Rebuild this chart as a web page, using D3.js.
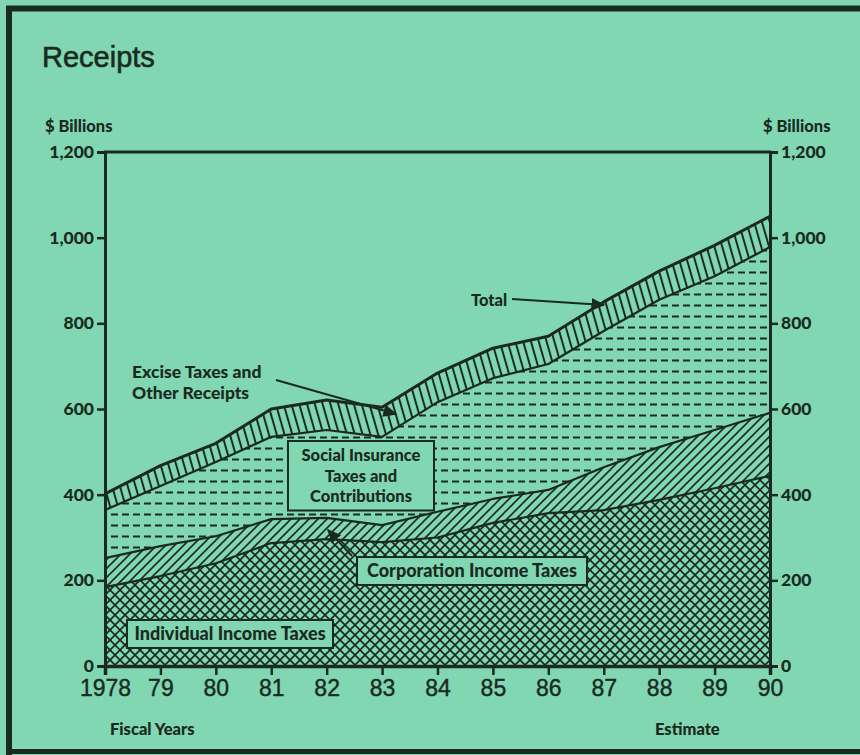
<!DOCTYPE html>
<html>
<head>
<meta charset="utf-8">
<script src="https://cdn.jsdelivr.net/npm/d3@7"></script>
<style>
  html, body { margin: 0; padding: 0; background: #80d7b2; }
  svg { display: block; }
</style>
</head>
<body>
<svg id="chart" width="860" height="755"></svg>
<script>
// Fiscal years and federal receipts by source, $ billions
const years = [1978, 1979, 1980, 1981, 1982, 1983, 1984, 1985, 1986, 1987, 1988, 1989, 1990];
const individualIncome = [184, 210, 240, 287, 296, 289, 300, 334, 357, 364, 388, 415, 444];
const corporationIncome = [68, 70, 63, 56, 50, 40, 60, 56, 54, 100, 123, 136, 147];
const socialInsurance = [112, 140, 173, 192, 205, 206, 256, 282, 294, 318, 344, 359, 387];
const exciseOther = [38, 48, 44, 65, 70, 69, 68, 70, 65, 68, 67, 72, 72];
const yTicks = [0, 200, 400, 600, 800, 1000, 1200];

const INK = "#1b2a21";
const BG = "#80d7b2";
const LABEL_FONT = "Lato, 'DejaVu Sans', sans-serif";

const svg = d3.select("#chart");

// outer frame
svg.append("rect").attr("x", 0).attr("y", 0).attr("width", 860).attr("height", 755).attr("fill", BG);
svg.append("path")
  .attr("d", "M9,755 L9,8.5 L860,8.5")
  .attr("fill", "none").attr("stroke", INK).attr("stroke-width", 6);
svg.append("line").attr("x1", 9).attr("x2", 860).attr("y1", 751.5).attr("y2", 751.5)
  .attr("stroke", INK).attr("stroke-width", 5);

// fill patterns
const defs = svg.append("defs");
const pCross = defs.append("pattern").attr("id", "pCross").attr("patternUnits", "userSpaceOnUse")
  .attr("width", 10).attr("height", 10);
pCross.append("path").attr("d", "M-1,-1 L11,11 M11,-1 L-1,11")
  .attr("stroke", INK).attr("stroke-width", 1.7).attr("fill", "none");

const pDiag = defs.append("pattern").attr("id", "pDiag").attr("patternUnits", "userSpaceOnUse")
  .attr("width", 9).attr("height", 9);
pDiag.append("path").attr("d", "M-2,2 L2,-2 M0,9 L9,0 M7,11 L11,7")
  .attr("stroke", INK).attr("stroke-width", 1.6).attr("fill", "none");

const pDash = defs.append("pattern").attr("id", "pDash").attr("patternUnits", "userSpaceOnUse")
  .attr("width", 11).attr("height", 11).attr("y", 3);
pDash.append("line").attr("x1", 1).attr("x2", 8).attr("y1", 5.5).attr("y2", 5.5)
  .attr("stroke", INK).attr("stroke-width", 2);

const pVert = defs.append("pattern").attr("id", "pVert").attr("patternUnits", "userSpaceOnUse")
  .attr("width", 7.5).attr("height", 20).attr("patternTransform", "rotate(-16)");
pVert.append("line").attr("x1", 3.75).attr("x2", 3.75).attr("y1", -1).attr("y2", 21)
  .attr("stroke", INK).attr("stroke-width", 2);

const marker = defs.append("marker").attr("id", "arrow").attr("viewBox", "0 0 10 10")
  .attr("refX", 9).attr("refY", 5).attr("markerWidth", 14).attr("markerHeight", 14)
  .attr("markerUnits", "userSpaceOnUse").attr("orient", "auto");
marker.append("path").attr("d", "M0,0.5 L10,5 L0,9.5 Z").attr("fill", INK);

// scales
const x = d3.scaleLinear().domain([1978, 1990]).range([105, 770]);
const y = d3.scaleLinear().domain([0, 1200]).range([666, 152]);

// stacked layers
const rows = years.map((yr, i) => ({
  year: yr,
  individual: individualIncome[i],
  corporation: corporationIncome[i],
  social: socialInsurance[i],
  excise: exciseOther[i]
}));
const keys = ["individual", "corporation", "social", "excise"];
const fills = { individual: "url(#pCross)", corporation: "url(#pDiag)", social: "url(#pDash)", excise: "url(#pVert)" };
const series = d3.stack().keys(keys)(rows);

const area = d3.area().x(d => x(d.data.year)).y0(d => y(d[0])).y1(d => y(d[1]));
const topLine = d3.line().x(d => x(d.data.year)).y(d => y(d[1]));

const g = svg.append("g");
g.selectAll("path.layer").data(series).join("path")
  .attr("class", "layer").attr("d", area)
  .attr("fill", d => fills[d.key]).attr("stroke", "none");
g.selectAll("path.edge").data(series).join("path")
  .attr("class", "edge").attr("d", topLine)
  .attr("fill", "none").attr("stroke", INK)
  .attr("stroke-width", d => d.key === "excise" ? 3 : 2.2)
  .attr("stroke-linejoin", "round");

// axes
const yFmt = d3.format(",");
const axL = svg.append("g").attr("transform", `translate(${x(1978)},0)`)
  .call(d3.axisLeft(y).tickValues(yTicks).tickFormat(yFmt).tickSize(8).tickPadding(3));
const axR = svg.append("g").attr("transform", `translate(${x(1990)},0)`)
  .call(d3.axisRight(y).tickValues(yTicks).tickFormat(yFmt).tickSize(8).tickPadding(3));
[axL, axR].forEach(a => {
  a.select(".domain").attr("stroke", INK).attr("stroke-width", 3);
  a.selectAll(".tick line").attr("stroke", INK).attr("stroke-width", 2.5);
  a.selectAll(".tick text").attr("fill", INK)
    .style("font-family", LABEL_FONT).style("font-weight", 900).style("font-size", "17.5px");
});

const axB = svg.append("g").attr("transform", `translate(0,${y(0)})`)
  .call(d3.axisBottom(x).tickValues(years)
    .tickFormat(d => d === 1978 ? "1978" : String(d % 100).padStart(2, "0"))
    .tickSize(9).tickPadding(5));
axB.select(".domain").attr("stroke", INK).attr("stroke-width", 3.5);
axB.selectAll(".tick line").attr("stroke", INK).attr("stroke-width", 2.5);
axB.selectAll(".tick text").attr("fill", INK).attr("stroke", INK).attr("stroke-width", 0.4)
  .style("font-family", "'Liberation Sans Narrow', 'Liberation Sans', sans-serif")
  .style("font-size", "23px");

// top frame of plot
svg.append("line").attr("x1", x(1978) - 1).attr("x2", x(1990) + 1)
  .attr("y1", y(1200)).attr("y2", y(1200))
  .attr("stroke", INK).attr("stroke-width", 3);

// titles and unit labels
svg.append("text").attr("x", 42).attr("y", 67).text("Receipts")
  .attr("fill", INK).attr("stroke", INK).attr("stroke-width", 0.6)
  .style("font-family", "'Liberation Sans', Arial, sans-serif").style("font-size", "29px");

const small = (tx, xx, yy, anchor) => svg.append("text").attr("x", xx).attr("y", yy).text(tx)
  .attr("text-anchor", anchor || "start").attr("fill", INK)
  .style("font-family", LABEL_FONT).style("font-weight", 900).style("font-size", "16.5px");
small("$ Billions", 45, 132);
small("$ Billions", 763, 132);
small("Fiscal Years", 110, 735);
small("Estimate", 655, 735);

// boxed labels
function boxLabel(lines, cx, top, w, lineH, size) {
  const h = lines.length * lineH + 8;
  svg.append("rect").attr("x", cx - w / 2).attr("y", top).attr("width", w).attr("height", h)
    .attr("fill", BG).attr("stroke", INK).attr("stroke-width", 2);
  lines.forEach((t, i) => {
    svg.append("text").attr("x", cx).attr("y", top + 4 + lineH * (i + 0.5)).attr("dy", "0.36em")
      .attr("text-anchor", "middle").attr("fill", INK).text(t)
      .style("font-family", LABEL_FONT).style("font-weight", 900).style("font-size", size + "px");
  });
}
boxLabel(["Individual Income Taxes"], 230, 620, 206, 20, 18);
boxLabel(["Corporation Income Taxes"], 472, 557, 230, 20, 18);
boxLabel(["Social Insurance", "Taxes and", "Contributions"], 361, 441, 146, 20.5, 16.5);

// free labels with arrows
const freeText = (lines, xx, yy, lh, size) => lines.forEach((t, i) =>
  svg.append("text").attr("x", xx).attr("y", yy + i * lh).attr("dy", "0.36em").text(t)
    .attr("fill", INK).style("font-family", LABEL_FONT).style("font-weight", 900).style("font-size", size + "px"));
freeText(["Excise Taxes and", "Other Receipts"], 132, 372, 21, 17.5);
freeText(["Total"], 471, 300, 0, 16.5);

const arrow = (x1, y1, x2, y2) => svg.append("line")
  .attr("x1", x1).attr("y1", y1).attr("x2", x2).attr("y2", y2)
  .attr("stroke", INK).attr("stroke-width", 2).attr("marker-end", "url(#arrow)");
arrow(276, 380, 396, 414);
arrow(512, 299, 604, 305);
arrow(352, 556, 328, 530);
</script>
</body>
</html>
